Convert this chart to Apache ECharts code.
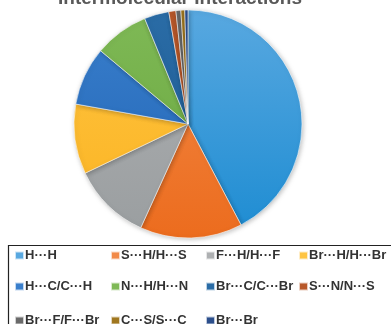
<!DOCTYPE html>
<html>
<head>
<meta charset="utf-8">
<script src="https://cdn.jsdelivr.net/npm/echarts@6/dist/echarts.min.js"></script>
<style>
  html, body { margin: 0; padding: 0; background: #fff; }
  #chart { width: 391px; height: 324px; }
</style>
</head>
<body>
<div id="chart"></div>
<script>
// Contact types and their share (%) of the Hirshfeld surface
const contacts = ['H···H', 'S···H/H···S', 'F···H/H···F', 'Br···H/H···Br', 'H···C/C···H',
                  'N···H/H···N', 'Br···C/C···Br', 'S···N/N···S', 'Br···F/F···Br', 'C···S/S···C', 'Br···Br'];
const shares = [42.3, 14.5, 11.1, 9.9, 8.3, 7.7, 3.5, 1.0, 0.7, 0.55, 0.45];
const titleText = 'Intermolecular Interactions';

// Slice colours: [top shade, bottom shade]
const palette = [
  ['#58a8e0', '#1d8cd2'], ['#f28a48', '#ec6c1e'], ['#aeb0b2', '#9a9ea0'], ['#fec441', '#fbb321'],
  ['#3a7fcc', '#1f63b4'], ['#7fb956', '#67a53c'], ['#2a6ca6', '#1b5890'], ['#b8582a', '#a84a1c'],
  ['#6a6a6a', '#5a5a5a'], ['#a0771f', '#906814'], ['#2c4f8c', '#223f78']
];

// Legend grid: columns (x of marker) and rows (y of marker top)
const colX = [14, 110, 205, 298];
const rowY = [249, 280, 314];

const chart = echarts.init(document.getElementById('chart'), null, { renderer: 'canvas' });

const legends = contacts.map((name, i) => ({
  data: [name],
  left: colX[i % 4],
  top: rowY[Math.floor(i / 4)],
  padding: 0,
  icon: 'rect',
  itemWidth: 9,
  itemHeight: 8,
  selectedMode: false,
  textStyle: { fontFamily: 'Liberation Sans', fontWeight: 'bold', fontSize: 13, color: '#333', padding: [0, 0, 0, -4] }
}));

chart.setOption({
  animation: false,
  title: {
    text: titleText,
    left: 180,
    textAlign: 'center',
    top: -11,
    padding: 0,
    textStyle: { fontFamily: 'Liberation Sans', fontWeight: 'bold', fontSize: 19, color: '#595959' }
  },
  legend: legends,
  graphic: [{
    type: 'rect',
    shape: { x: 8.5, y: 245.5, width: 400, height: 100 },
    style: { fill: 'none', stroke: '#222', lineWidth: 1.2 },
    silent: true
  }],
  series: [{
    type: 'pie',
    center: [188, 124],
    radius: 114,
    startAngle: 90,
    clockwise: true,
    label: { show: false },
    labelLine: { show: false },
    silent: true,
    itemStyle: {
      borderColor: 'rgba(255,255,255,0.7)',
      borderWidth: 0.8,
      shadowBlur: 5,
      shadowColor: 'rgba(0,0,0,0.25)',
      shadowOffsetX: 1,
      shadowOffsetY: 1
    },
    data: contacts.map((name, i) => ({
      name: name,
      value: shares[i],
      itemStyle: {
        color: new echarts.graphic.LinearGradient(0, 10, 0, 238, [
          { offset: 0, color: palette[i][0] },
          { offset: 1, color: palette[i][1] }
        ], true)
      }
    }))
  }],
  color: palette.map(p => p[0])
});
</script>
</body>
</html>
